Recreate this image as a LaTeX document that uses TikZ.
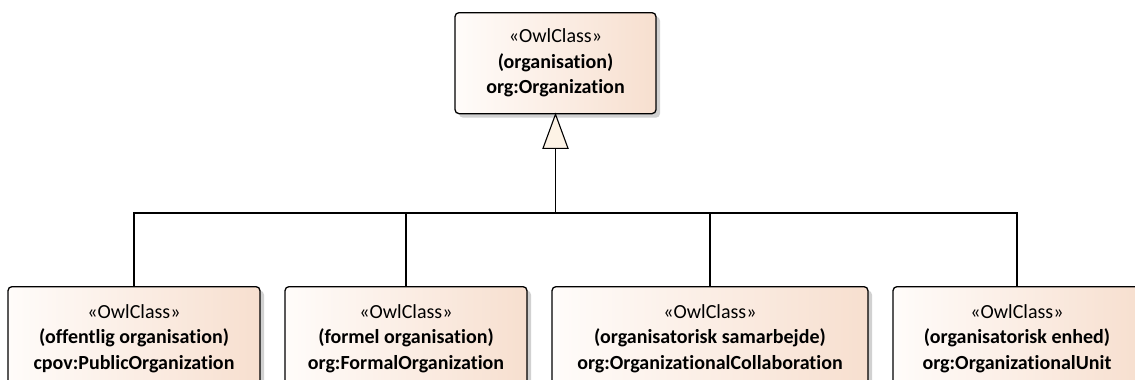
\documentclass[tikz,border=0pt]{standalone}
\usepackage{fontspec}
\setmainfont{Carlito}[Ligatures=NoCommon]
\usetikzlibrary{shadows}
\definecolor{boxl}{HTML}{FFFCFA}
\definecolor{boxr}{HTML}{F7DFCF}
\definecolor{trif}{HTML}{FDF3E6}
\tikzset{
  owl/.style={draw=black, line width=1.3pt, rounded corners=4pt,
    left color=boxl, right color=boxr, shading angle=90,
    drop shadow={shadow xshift=4pt, shadow yshift=-4pt, fill=black!18, opacity=1},
    align=center, font=\fontsize{20}{25.5}\selectfont, inner sep=0pt,
    minimum height=104pt},
  link/.style={draw=black, line width=1.1pt},
}
\newcommand{\owlc}[2]{\guillemotleft OwlClass\guillemotright\\\textbf{#1}\\\textbf{#2}}
\begin{document}
\begin{tikzpicture}[x=1pt,y=-1pt]
\useasboundingbox (0,0) rectangle (1135,380);
\clip (0,0) rectangle (1135,380);
\node[owl, minimum width=201pt, minimum height=101pt, anchor=north] (top) at (555.5,12) {\owlc{(organisation)}{org:Organization}};
\node[owl, minimum width=252pt, anchor=north] (b1) at (134,286) {\owlc{(offentlig organisation)}{cpov:PublicOrganization}};
\node[owl, minimum width=242pt, anchor=north] (b2) at (406,286) {\owlc{(formel organisation)}{org:FormalOrganization}};
\node[owl, minimum width=316pt, anchor=north] (b3) at (710,286) {\owlc{(organisatorisk samarbejde)}{org:OrganizationalCollaboration}};
\node[owl, minimum width=248pt, anchor=north] (b4) at (1017,286) {\owlc{(organisatorisk enhed)}{org:OrganizationalUnit}};
\coordinate (tb) at ([yshift=-34pt]top.south);
\coordinate (hub) at (top.south |- 0,213);
\draw[link, fill=trif, line join=miter] (top.south) -- ([xshift=-12.5pt]tb) -- ([xshift=12.5pt]tb) -- cycle;
\draw[link] (tb) -- (hub);
\draw[link] (b1.north) |- (hub);
\draw[link] (b2.north) |- (hub);
\draw[link] (b3.north) |- (hub);
\draw[link] (b4.north) |- (hub);
\end{tikzpicture}
\end{document}
